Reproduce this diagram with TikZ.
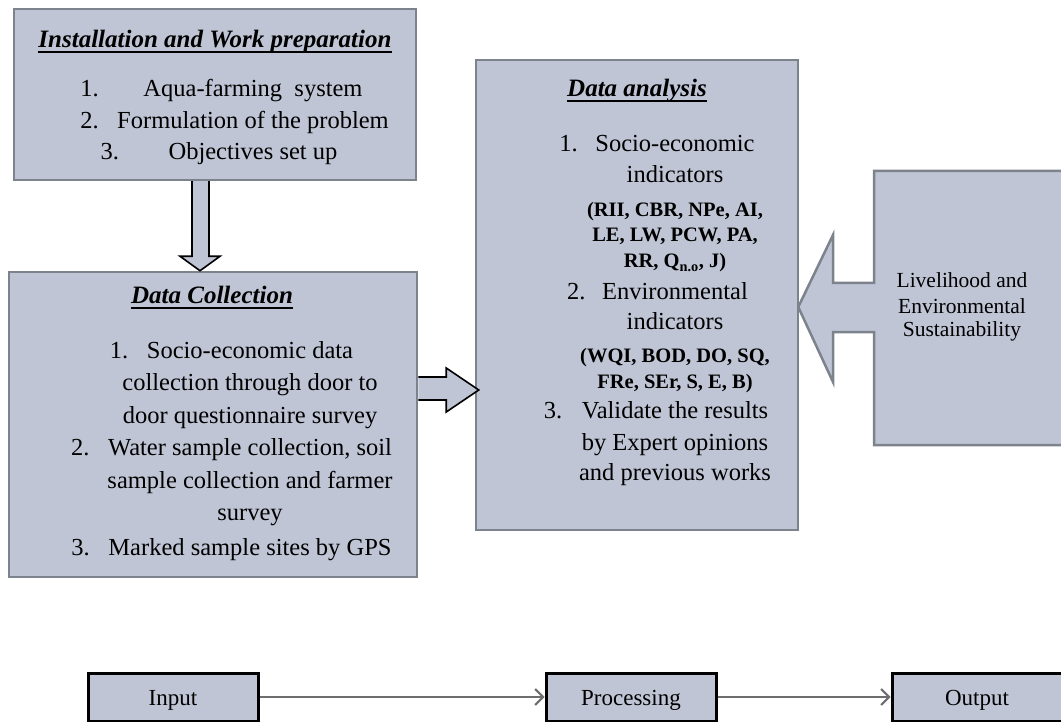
\documentclass[tikz,border=0pt]{standalone}
\usepackage{fontspec}
\setmainfont{Liberation Serif}
\usetikzlibrary{calc,arrows.meta}
\definecolor{boxfill}{RGB}{191,197,213}
\definecolor{boxline}{RGB}{125,131,140}
\definecolor{arrgray}{RGB}{110,110,110}
\newcommand\myul[1]{\setbox0\hbox{#1}\rlap{\rule[-5pt]{\wd0}{1.6pt}}\box0}
\begin{document}
\begin{tikzpicture}[x=1pt,y=-1pt,
  topbox/.style={draw=boxline,line width=2.5pt,fill=boxfill,inner sep=0pt},
  botbox/.style={draw=black,line width=3pt,fill=boxfill,inner sep=0pt,
    minimum width=170pt,minimum height=48pt,text height=20pt,text depth=4pt,
    font=\fontsize{23}{28}\selectfont},
  txt/.style={anchor=base,inner sep=0pt,font=\fontsize{24.5}{30}\selectfont},
  bld/.style={anchor=base,inner sep=0pt,font=\fontsize{20.5}{26}\selectfont\bfseries},
  ttl/.style={anchor=base,inner sep=0pt,font=\fontsize{25}{30}\selectfont\bfseries\itshape},
  livtxt/.style={anchor=base,inner sep=0pt,font=\fontsize{21.5}{26}\selectfont},
  blockarrow/.style={draw=black,line width=1.6pt,fill=boxfill,line join=miter},
  flowarrow/.style={draw=arrgray,line width=2pt,-{Straight Barb[length=8pt,width=16pt]}}]
\useasboundingbox (0,0) rectangle (1061,722);

% main boxes
\node[topbox,minimum width=402pt,minimum height=171pt] (box1) at (215,94.5) {};
\node[topbox,minimum width=408pt,minimum height=305pt] (box2) at (213,424.5) {};
\node[topbox,minimum width=322pt,minimum height=470pt] (box3) at (637,295) {};

% callout box with arrow to box3
\draw[draw=boxline,line width=2.5pt,fill=boxfill,line join=miter]
  (874,171) -- (1066,171) -- (1066,445) -- (874,445) -- (874,332) -- (833,332)
  -- (833,382) -- ($(box3.east)+(-1,12)$) -- (833,235) -- (833,283) -- (874,283) -- cycle;

% block arrow box1 -> box2
\fill[boxfill] ($(box1.south)+(-23,0)$) -- ($(box1.south)+(-23,75)$) -- ($(box1.south)+(-35,75)$)
  -- ($(box2.north)+(-13,0)$) -- ($(box1.south)+(5,75)$) -- ($(box1.south)+(-6,75)$)
  -- ($(box1.south)+(-6,0)$) -- cycle;
\draw[blockarrow,fill=none] ($(box1.south)+(-23,0)$) -- ($(box1.south)+(-23,75)$) -- ($(box1.south)+(-35,75)$)
  -- ($(box2.north)+(-13,0)$) -- ($(box1.south)+(5,75)$) -- ($(box1.south)+(-6,75)$)
  -- ($(box1.south)+(-6,0)$);

% block arrow box2 -> box3
\fill[boxfill] ($(box2.east)+(0,-47.5)$) -- ($(box2.east)+(28,-47.5)$) -- ($(box2.east)+(28,-56.5)$)
  -- ($(box3.west)+(4,95)$) -- ($(box2.east)+(28,-12.5)$) -- ($(box2.east)+(28,-24.5)$)
  -- ($(box2.east)+(0,-24.5)$) -- cycle;
\draw[blockarrow,fill=none] ($(box2.east)+(0,-47.5)$) -- ($(box2.east)+(28,-47.5)$) -- ($(box2.east)+(28,-56.5)$)
  -- ($(box3.west)+(4,95)$) -- ($(box2.east)+(28,-12.5)$) -- ($(box2.east)+(28,-24.5)$)
  -- ($(box2.east)+(0,-24.5)$);

% box1 text
\node[ttl] (t1) at (215,48) {\myul{Installation and Work preparation}};
\node[txt] (l11) at (253,97) {\llap{1.\hspace{44.6pt}}Aqua-farming\ \ system};
\node[txt] (l12) at (253,129) {\llap{2.\hspace{18.6pt}}Formulation of the problem};
\node[txt] (l13) at (253,160) {\llap{3.\hspace{49.6pt}}Objectives set up};

% box2 text
\node[ttl] (t2) at (212,304) {\myul{Data Collection}};
\node[txt] (l21) at (250,358) {\llap{1.\hspace{18.6pt}}Socio-economic data};
\node[txt] (l22) at (250,390) {collection through door to};
\node[txt] (l23) at (250,423) {door questionnaire survey};
\node[txt] (l24) at (250,455) {\llap{2.\hspace{18.6pt}}Water sample collection, soil};
\node[txt] (l25) at (250,488) {sample collection and farmer};
\node[txt] (l26) at (250,520) {survey};
\node[txt] (l27) at (250,555) {\llap{3.\hspace{18.6pt}}Marked sample sites by GPS};

% box3 text
\node[ttl] (t3) at (637,97) {\myul{Data analysis}};
\node[txt] (l31) at (675,152) {\llap{1.\hspace{17.6pt}}Socio-economic};
\node[txt] (l32) at (675,183) {indicators};
\node[bld] (l33) at (675,217) {(RII, CBR, NPe, AI,};
\node[bld] (l34) at (675,242) {LE, LW, PCW, PA,};
\node[bld] (l35) at (675,268) {RR, Q\textsubscript{n.o}, J)};
\node[txt] (l36) at (675,300) {\llap{2.\hspace{16.6pt}}Environmental};
\node[txt] (l37) at (675,330) {indicators};
\node[bld] (l38) at (675,362) {(WQI, BOD, DO, SQ,};
\node[bld] (l39) at (675,388) {FRe, SEr, S, E, B)};
\node[txt] (l310) at (675,418) {\llap{3.\hspace{19.6pt}}Validate the results};
\node[txt] (l311) at (675,450) {by Expert opinions};
\node[txt] (l312) at (675,480) {and previous works};

% callout text
\node[livtxt] (v1) at (962,288) {Livelihood and};
\node[livtxt] (v2) at (962,313) {Environmental};
\node[livtxt] (v3) at (962,337) {Sustainability};

% bottom flow
\node[botbox] (inb) at (173,697) {Input};
\node[botbox] (proc) at (631,697) {Processing};
\node[botbox] (outb) at (977,697) {Output};
\draw[flowarrow] (inb) -- (proc);
\draw[flowarrow] (proc) -- (outb);
\end{tikzpicture}
\end{document}
